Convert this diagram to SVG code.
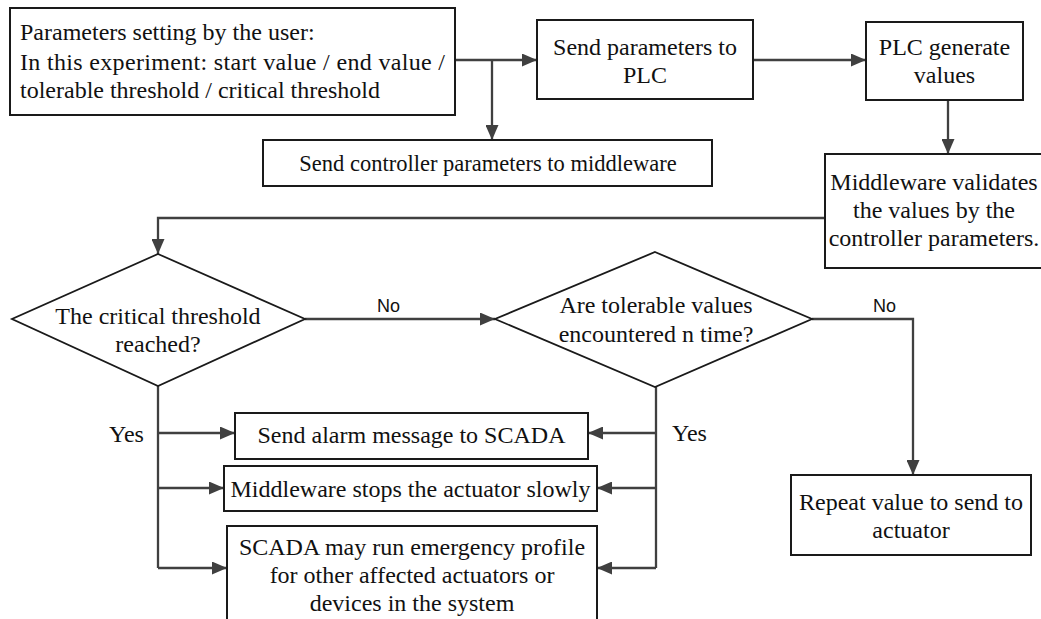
<svg xmlns="http://www.w3.org/2000/svg" width="1041" height="619" viewBox="0 0 1041 619">
<defs>
<marker id="arr" markerUnits="userSpaceOnUse" markerWidth="15" markerHeight="13" refX="15" refY="6.5" orient="auto">
<path d="M0,0 L15,6.5 L0,13 z" fill="#404040"/>
</marker>
<style>
.box{fill:#fff;stroke:#1a1a1a;stroke-width:2}
.dia{fill:#fff;stroke:#1a1a1a;stroke-width:1.8}
.t{font-family:"Liberation Serif","Times New Roman",serif;font-size:24px;fill:#111}
.c{text-anchor:middle}
.lab{font-family:"Liberation Sans",Arial,sans-serif;font-size:18px;fill:#111}
.ln{fill:none;stroke:#404040;stroke-width:2.3}
.a{marker-end:url(#arr)}
</style>
</defs>
<rect width="1041" height="619" fill="#fff"/>
<g id="connectors">
<line class="ln a" x1="455" y1="60" x2="537" y2="60"/>
<line class="ln a" x1="492" y1="60" x2="492" y2="140"/>
<line class="ln a" x1="753" y1="60" x2="866" y2="60"/>
<line class="ln a" x1="948" y1="100" x2="948" y2="154"/>
<polyline class="ln a" points="825,218 158,218 158,254"/>
<line class="ln a" x1="305" y1="319" x2="495" y2="319"/>
<polyline class="ln a" points="812,319 913,319 913,475"/>
<line class="ln" x1="158" y1="386" x2="158" y2="568"/>
<line class="ln a" x1="158" y1="433" x2="235" y2="433"/>
<line class="ln a" x1="158" y1="488" x2="224" y2="488"/>
<line class="ln a" x1="158" y1="568" x2="227" y2="568"/>
<line class="ln" x1="656" y1="387" x2="656" y2="568"/>
<line class="ln a" x1="656" y1="433" x2="588" y2="433"/>
<line class="ln a" x1="656" y1="488" x2="597" y2="488"/>
<line class="ln a" x1="656" y1="568" x2="597" y2="568"/>
<text class="lab" x="377" y="312">No</text>
<text class="lab" x="873" y="312">No</text>
<text class="t" x="109" y="442">Yes</text>
<text class="t" x="672" y="441">Yes</text>
</g>
<g id="n-params">
<rect class="box" x="10" y="8" width="445" height="107"/>
<text class="t" x="20" y="40">Parameters setting by the user:</text>
<text class="t" x="20" y="70" textLength="425" lengthAdjust="spacing">In this experiment: start value / end value /</text>
<text class="t" x="20" y="98">tolerable threshold / critical threshold</text>
</g>
<g id="n-send-plc">
<rect class="box" x="537" y="20" width="216" height="79"/>
<text class="t c" x="645" y="55">Send parameters to</text>
<text class="t c" x="645" y="83">PLC</text>
</g>
<g id="n-plc-gen">
<rect class="box" x="866" y="22" width="157" height="78"/>
<text class="t c" x="944.5" y="55">PLC generate</text>
<text class="t c" x="944.5" y="83">values</text>
</g>
<g id="n-send-mw">
<rect class="box" x="263" y="140" width="449" height="46"/>
<text class="t c" x="488" y="171" style="font-size:22.5px">Send controller parameters to middleware</text>
</g>
<g id="n-validate">
<rect class="box" x="825" y="154" width="222" height="114"/>
<text class="t c" x="934" y="190">Middleware validates</text>
<text class="t c" x="934" y="218">the values by the</text>
<text class="t c" x="934" y="246">controller parameters.</text>
</g>
<g id="n-critical">
<polygon class="dia" points="158,254 305,319 158,386 12,319"/>
<text class="t c" x="158" y="324">The critical threshold</text>
<text class="t c" x="158" y="352">reached?</text>
</g>
<g id="n-tolerable">
<polygon class="dia" points="655,252 812,319 655,387 495,319"/>
<text class="t c" x="656" y="313">Are tolerable values</text>
<text class="t c" x="656" y="342">encountered n time?</text>
</g>
<g id="n-repeat">
<rect class="box" x="791" y="475" width="240" height="80"/>
<text class="t c" x="911" y="510">Repeat value to send to</text>
<text class="t c" x="911" y="538">actuator</text>
</g>
<g id="n-alarm">
<rect class="box" x="235" y="413" width="353" height="46"/>
<text class="t c" x="411.5" y="443">Send alarm message to SCADA</text>
</g>
<g id="n-stop">
<rect class="box" x="224" y="466" width="373" height="45"/>
<text class="t c" x="410.5" y="497">Middleware stops the actuator slowly</text>
</g>
<g id="n-emergency">
<rect class="box" x="227" y="526" width="370" height="110"/>
<text class="t c" x="412" y="555">SCADA may run emergency profile</text>
<text class="t c" x="412" y="583">for other affected actuators or</text>
<text class="t c" x="412" y="611">devices in the system</text>
</g>
</svg>
